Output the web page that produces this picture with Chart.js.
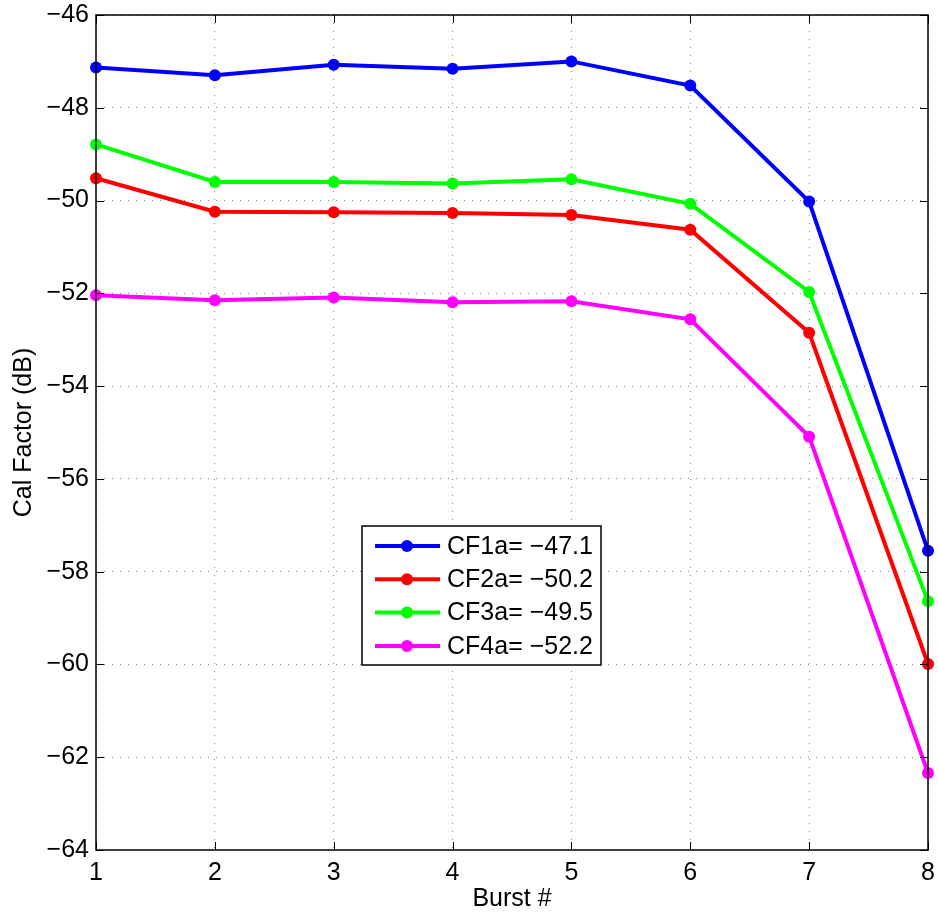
<!DOCTYPE html>
<html>
<head>
<meta charset="utf-8">
<script src="https://cdn.jsdelivr.net/npm/chart.js@4/dist/chart.umd.min.js"></script>
<style>
  html, body { margin: 0; padding: 0; background: #fff; }
  #wrap { width: 938px; height: 916px; }
</style>
</head>
<body>
<div id="wrap"><canvas id="chart" width="938" height="916"></canvas></div>
<script>
// Datos
const bursts = [1, 2, 3, 4, 5, 6, 7, 8];
const cf1 = [-47.13, -47.30, -47.07, -47.16, -47.00, -47.52, -50.02, -57.55];
const cf2 = [-49.52, -50.24, -50.25, -50.27, -50.31, -50.63, -52.85, -59.99];
const cf3 = [-48.79, -49.60, -49.60, -49.63, -49.54, -50.07, -51.97, -58.64];
const cf4 = [-52.04, -52.15, -52.09, -52.19, -52.17, -52.56, -55.09, -62.34];
const seriesNames = ['CF1a= \u221247.1', 'CF2a= \u221250.2', 'CF3a= \u221249.5', 'CF4a= \u221252.2'];
const seriesColors = ['#0000ff', '#ff0000', '#00ff00', '#ff00ff'];
const yTicks = [-64, -62, -60, -58, -56, -54, -52, -50, -48, -46];

const FONT = 'Liberation Sans, Arial, Helvetica, sans-serif';
const FSIZE = 25;

function toPoints(vals) {
    return bursts.map((b, i) => ({ x: b, y: vals[i] }));
}

const datasets = [cf1, cf2, cf3, cf4].map((vals, i) => ({
    label: seriesNames[i],
    data: toPoints(vals),
    borderColor: seriesColors[i],
    backgroundColor: seriesColors[i],
    borderWidth: 4,
    pointRadius: 6,
    pointHoverRadius: 6,
    pointBorderWidth: 0,
    tension: 0,
    clip: false
}));

// marco, marcas hacia dentro y leyenda
const framePlugin = {
    id: 'frame',
    afterDraw(chart) {
        const ctx = chart.ctx;
        const a = chart.chartArea;
        const xs = chart.scales.x, ys = chart.scales.y;
        ctx.save();
        ctx.strokeStyle = '#000';
        ctx.lineWidth = 1.5;
        ctx.strokeRect(a.left, a.top, a.right - a.left, a.bottom - a.top);
        ctx.lineWidth = 1;
        ctx.beginPath();
        bursts.forEach(b => {
            const px = Math.round(xs.getPixelForValue(b)) + 0.5;
            ctx.moveTo(px, a.bottom); ctx.lineTo(px, a.bottom - 8);
            ctx.moveTo(px, a.top); ctx.lineTo(px, a.top + 8);
        });
        yTicks.forEach(v => {
            const py = Math.round(ys.getPixelForValue(v)) + 0.5;
            ctx.moveTo(a.left, py); ctx.lineTo(a.left + 8, py);
            ctx.moveTo(a.right, py); ctx.lineTo(a.right - 8, py);
        });
        ctx.stroke();

        // leyenda
        const lx = 362, ly = 526, lw = 239, lh = 139;
        ctx.fillStyle = '#fff';
        ctx.fillRect(lx, ly, lw, lh);
        ctx.strokeStyle = '#000';
        ctx.lineWidth = 1.5;
        ctx.strokeRect(lx, ly, lw, lh);
        ctx.font = FSIZE + 'px ' + FONT;
        ctx.textBaseline = 'middle';
        ctx.textAlign = 'left';
        chart.data.datasets.forEach((ds, i) => {
            const cy = ly + 20 + i * 33.3;
            ctx.strokeStyle = ds.borderColor;
            ctx.lineWidth = 4;
            ctx.beginPath();
            ctx.moveTo(lx + 13, cy); ctx.lineTo(lx + 78, cy);
            ctx.stroke();
            ctx.fillStyle = ds.borderColor;
            ctx.beginPath();
            ctx.arc(lx + 45, cy, 6, 0, Math.PI * 2);
            ctx.fill();
            ctx.fillStyle = '#000';
            ctx.fillText(ds.label, lx + 85, cy + 1);
        });
        ctx.restore();
    }
};

new Chart(document.getElementById('chart'), {
    type: 'line',
    data: { datasets: datasets },
    plugins: [framePlugin],
    options: {
        responsive: false,
        animation: false,
        layout: { padding: { left: 0, right: 10, top: 15, bottom: 0 } },
        plugins: {
            legend: { display: false },
            tooltip: { enabled: false }
        },
        scales: {
            x: {
                type: 'linear',
                min: 1, max: 8,
                afterFit(scale) {
                    scale.height = 66;
                    scale.paddingLeft = 0;
                    scale.paddingRight = 0;
                },
                afterBuildTicks(scale) { scale.ticks = bursts.map(v => ({ value: v })); },
                ticks: {
                    color: '#000',
                    font: { family: FONT, size: FSIZE },
                    padding: 8,
                    maxRotation: 0,
                    callback: v => String(v)
                },
                grid: { color: '#888', lineWidth: 1, drawTicks: false },
                border: { display: false, dash: [1, 7] },
                title: {
                    display: true,
                    text: 'Burst #',
                    color: '#000',
                    font: { family: FONT, size: FSIZE },
                    padding: { top: 0, bottom: 2 }
                }
            },
            y: {
                type: 'linear',
                min: -64, max: -46,
                afterFit(scale) {
                    scale.width = 96;
                    scale.paddingTop = 0;
                    scale.paddingBottom = 0;
                },
                afterBuildTicks(scale) { scale.ticks = yTicks.map(v => ({ value: v })); },
                ticks: {
                    color: '#000',
                    font: { family: FONT, size: FSIZE },
                    padding: 7,
                    callback: v => String(v).replace('-', '\u2212')
                },
                grid: { color: '#888', lineWidth: 1, drawTicks: false },
                border: { display: false, dash: [1, 7] },
                title: {
                    display: true,
                    text: 'Cal Factor (dB)',
                    color: '#000',
                    font: { family: FONT, size: FSIZE },
                    padding: { top: 9, bottom: 0 }
                }
            }
        }
    }
});
</script>
</body>
</html>
